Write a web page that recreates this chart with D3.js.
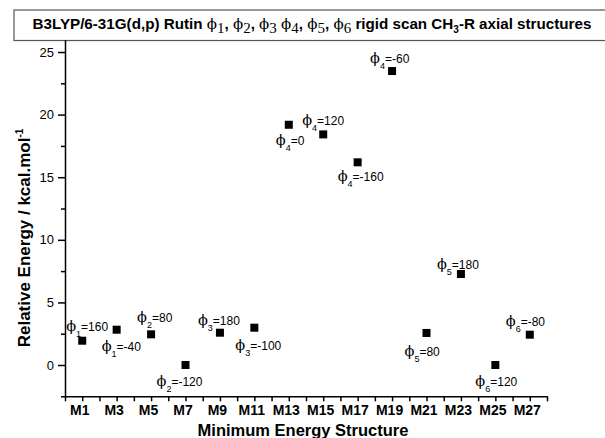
<!DOCTYPE html>
<html><head><meta charset="utf-8">
<script src="https://cdn.jsdelivr.net/npm/d3@7"></script>
<style>body{margin:0;background:#fff} svg{display:block}</style>
</head><body><svg id="c" width="605" height="438"></svg>
<script>
// ---------- data ----------
const structures = ["M1","M3","M5","M7","M9","M11","M13","M15","M17","M19","M21","M23","M25","M27"];
const structureNums = [1,3,5,7,9,11,13,15,17,19,21,23,25,27];
const energies = [1.94, 2.82, 2.45, 0.0, 2.58, 2.98, 19.19, 18.42, 16.19, 23.48, 2.56, 7.27, 0.0, 2.42];
const dihedralIndex = ["1","1","2","2","3","3","4","4","4","4","5","5","6","6"];
const dihedralAngle = ["160","-40","80","-120","180","-100","0","120","-160","-60","80","180","120","-80"];
const xMajorTicks = [1,3,5,7,9,11,13,15,17,19,21,23,25,27];
const xMinorTicks = [0,2,4,6,8,10,12,14,16,18,20,22,24,26,28];
const yMajorTicks = [0,5,10,15,20,25];
const yMinorTicks = [-2.5,2.5,7.5,12.5,17.5,22.5];
const yTitle = "Relative Energy / kcal.mol";
const xTitle = "Minimum Energy Structure";

// ---------- layout (label offsets in px, relative to each point) ----------
const labelOffsets = [[-16,-10],[-15,21],[-14,-12],[-29,21],[-22,-8],[-19,22],[-13,20],[-21,-9],[-20,19],[-22,-8],[-22,23],[-24,-5],[-20,21],[-24,-9]];

const SANS = "'Liberation Sans', Arial, sans-serif";
const SERIF = "'Liberation Serif', 'Times New Roman', serif";
const PHIFONT = "'DejaVu Serif', serif";
const PHI = "\u03D5";

const svg = d3.select("#c");
const x = d3.scaleLinear().domain([0, 28]).range([65, 547]);
const y = d3.scaleLinear().domain([-2.5, 26]).range([396.3, 39.5]);

// title box
svg.append("rect").attr("x", 14).attr("y", 10).attr("width", 600).attr("height", 30.5)
  .attr("fill", "#fff").attr("stroke", "#555").attr("stroke-width", 1.2);
const title = svg.append("text").attr("x", 312).attr("y", 29).attr("text-anchor", "middle")
  .attr("font-family", SANS).attr("font-size", 15.2).attr("font-weight", "bold").attr("fill", "#000");
title.append("tspan").text("B3LYP/6-31G(d,p) Rutin ");
const titlePhis = [["1", ", "], ["2", ", "], ["3", " "], ["4", ", "], ["5", ", "], ["6", " "]];
titlePhis.forEach(([sub, sep]) => {
  title.append("tspan").attr("font-family", PHIFONT).attr("font-weight", "normal").attr("font-size", 15).attr("fill", "#000").text(PHI);
  title.append("tspan").attr("font-family", SERIF).attr("font-weight", "normal").attr("font-size", 15).attr("dy", 4).text(sub);
  title.append("tspan").attr("dy", -4).text(sep);
});
title.append("tspan").text("rigid scan CH");
title.append("tspan").attr("font-size", 10).attr("dy", 4).text("3");
title.append("tspan").attr("dy", -4).text("-R axial structures");

// y axis
const yAxis = svg.append("g").attr("transform", `translate(${x(0)},0)`)
  .call(d3.axisLeft(y).tickValues(yMajorTicks).tickSize(7).tickPadding(4).tickSizeOuter(0));
yAxis.selectAll("text").attr("font-family", SANS).attr("font-size", 13).attr("fill", "#000");
const yMinor = svg.append("g").attr("transform", `translate(${x(0)},0)`)
  .call(d3.axisLeft(y).tickValues(yMinorTicks).tickSize(4).tickFormat("").tickSizeOuter(0));
yMinor.select(".domain").remove();

// x axis
const xAxis = svg.append("g").attr("transform", `translate(0,${y(-2.5)})`)
  .call(d3.axisBottom(x).tickValues(xMajorTicks).tickFormat(d => "M" + d).tickSize(5).tickPadding(4).tickSizeOuter(0));
xAxis.selectAll("text").attr("font-family", SANS).attr("font-size", 14).attr("font-weight", "bold").attr("fill", "#000").attr("dx", -3);
const xMinor = svg.append("g").attr("transform", `translate(0,${y(-2.5)})`)
  .call(d3.axisBottom(x).tickValues(xMinorTicks).tickSize(5).tickFormat("").tickSizeOuter(0));
xMinor.select(".domain").remove();
svg.selectAll(".domain, .tick line").attr("stroke", "#000").attr("stroke-width", 1.5);

// axis titles
const yt = svg.append("text").attr("transform", `translate(30,238) rotate(-90)`).attr("text-anchor", "middle")
  .attr("font-family", SANS).attr("font-size", 17).attr("font-weight", "bold").attr("fill", "#000");
yt.append("tspan").text(yTitle);
yt.append("tspan").attr("font-size", 10).attr("dy", -7).text("-1");
svg.append("text").attr("x", 303).attr("y", 435.5).attr("text-anchor", "middle")
  .attr("font-family", SANS).attr("font-size", 16.5).attr("font-weight", "bold").attr("fill", "#000").text(xTitle);

// points
const S = 8;
svg.append("g").selectAll("rect").data(energies).join("rect")
  .attr("x", (d, i) => x(structureNums[i]) - S / 2)
  .attr("y", d => y(d) - S / 2)
  .attr("width", S).attr("height", S).attr("fill", "#000");

// annotations
energies.forEach((d, i) => {
  const t = svg.append("text")
    .attr("x", x(structureNums[i]) + labelOffsets[i][0])
    .attr("y", y(d) + labelOffsets[i][1])
    .attr("font-family", SANS).attr("font-size", 12).attr("fill", "#000");
  t.append("tspan").attr("font-family", PHIFONT).attr("font-size", 14.5).attr("fill", "#000").text(PHI);
  t.append("tspan").attr("font-size", 9).attr("dy", 6).text(dihedralIndex[i]);
  t.append("tspan").attr("dy", -6).text("=" + dihedralAngle[i]);
});
</script></body></html>
